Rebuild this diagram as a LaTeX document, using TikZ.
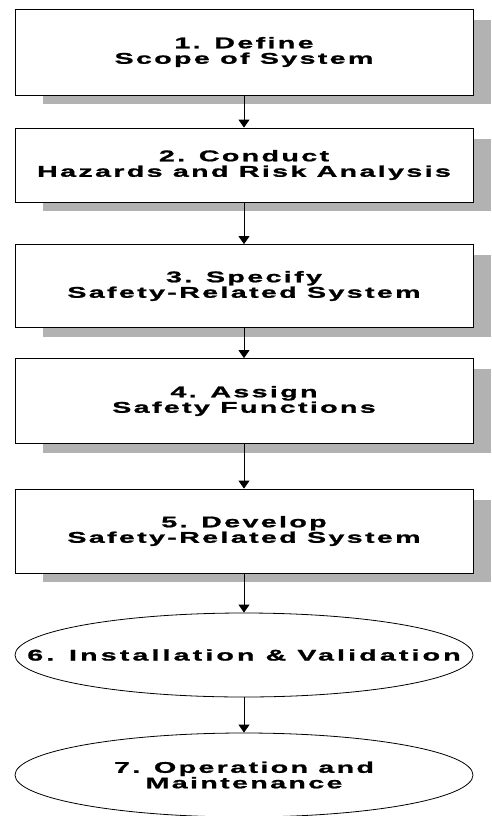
\documentclass[tikz,border=0pt]{standalone}
\usepackage{fontspec}
\newfontfamily\stepfont[FakeStretch=1.85,LetterSpace=15,FakeBold=1.2]{Liberation Sans Bold}
\newfontfamily\widestepfont[FakeStretch=1.85,LetterSpace=20,FakeBold=1.2]{Liberation Sans Bold}
\usetikzlibrary{arrows.meta}
\usetikzlibrary{shapes.geometric}
\usetikzlibrary{backgrounds}

\newcommand{\ovaltext}[1]{\makebox[0pt]{#1}}

\tikzset{
  stepbox/.style={draw, fill=white, line width=0.8pt, minimum width=458pt,
    align=center, inner sep=0pt, font=\stepfont\fontsize{15.5}{15.5}\selectfont},
  stepoval/.style={ellipse, draw, fill=white, line width=0.8pt, minimum width=458pt,
    minimum height=84pt, inner sep=0pt, align=center,
    font=\stepfont\fontsize{15.5}{15.5}\selectfont},
  flow/.style={line width=0.8pt, -{Triangle[width=11pt,length=8pt]}},
  boxshadow/.style={fill=gray!60}
}

\begin{document}
\begin{tikzpicture}[x=1pt, y=-1pt]
    \useasboundingbox (0, 0) rectangle (491, 816);

    %Boxes
    \node[stepbox, minimum height=86pt] (b1) at (244,  52) {1. Define\\Scope of System};
    \node[stepbox, minimum height=74pt] (b2) at (244, 165) {2. Conduct\\Hazards and Risk Analysis};
    \node[stepbox, minimum height=83pt] (b3) at (244, 286) {3. Specify\\Safety-Related System};
    \node[stepbox, minimum height=85pt] (b4) at (244, 401) {4. Assign\\Safety Functions};
    \node[stepbox, minimum height=84pt] (b5) at (244, 531) {5. Develop\\Safety-Related System};

    %Ovals
    \node[stepoval, font=\widestepfont\fontsize{15.5}{15.5}\selectfont] (e6) at (244, 655) {\ovaltext{6. Installation \& Validation}};
    \node[stepoval] (e7) at (244, 775) {\ovaltext{7. Operation and}\\\ovaltext{Maintenance}};

    %Shadows
    \begin{scope}[on background layer]
      \foreach \b in {b1, b2, b3, b4, b5}
        \fill[boxshadow] ([xshift=28pt, yshift=-11pt]\b.north west) rectangle ([xshift=18pt, yshift=-9pt]\b.south east);
    \end{scope}

    %Arrows
    \draw[flow] (b1) -- (b2);
    \draw[flow] (b2) -- (b3);
    \draw[flow] (b3) -- (b4);
    \draw[flow] (b4) -- (b5);
    \draw[flow] (b5) -- (e6);
    \draw[flow] (e6) -- (e7);
  \end{tikzpicture}
\end{document}
